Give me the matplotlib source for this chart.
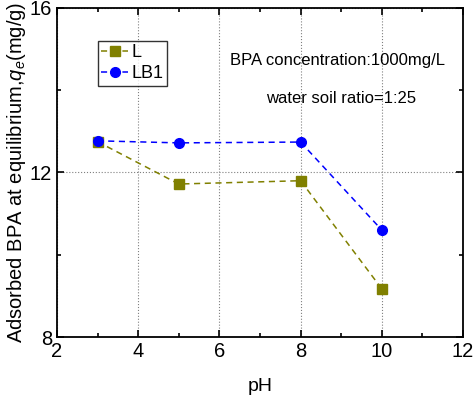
import matplotlib.pyplot as plt
from matplotlib.ticker import MultipleLocator

plt.rcParams['font.family'] = ['Liberation Sans', 'DejaVu Sans']
plt.rcParams['mathtext.fontset'] = 'custom'
plt.rcParams['mathtext.it'] = 'Liberation Sans:italic'
plt.rcParams['mathtext.rm'] = 'Liberation Sans'

ph = [3, 5, 8, 10]
q_L = [12.75, 11.72, 11.8, 9.17]
q_LB1 = [12.77, 12.72, 12.74, 10.6]

fig = plt.figure(figsize=(4.74, 3.97), dpi=100)
ax = fig.add_axes([0.120, 0.151, 0.857, 0.829])

ax.plot(ph, q_L, linestyle='--', marker='s', color='#808000', markersize=6.5, lw=1.1, dashes=(4, 3), label='L')
ax.plot(ph, q_LB1, linestyle='--', marker='o', color='#0000ff', markersize=7, lw=1.1, dashes=(4, 3), label='LB1')

ax.set_xlim(2, 12)
ax.set_ylim(8, 16)
ax.xaxis.set_major_locator(MultipleLocator(2))
ax.xaxis.set_minor_locator(MultipleLocator(1))
ax.yaxis.set_major_locator(MultipleLocator(4))
ax.yaxis.set_minor_locator(MultipleLocator(2))
ax.tick_params(which='both', direction='in', top=True, right=True, labelsize=14.5, width=1.2)
ax.tick_params(which='major', length=5)
ax.tick_params(which='minor', length=3)
ax.grid(True, which='major', linestyle=':', color='gray', lw=0.8)
for s in ax.spines.values():
    s.set_linewidth(1.3)

ax.set_xlabel('pH', fontsize=14, labelpad=12)
ax.set_ylabel('Adsorbed BPA at equilibrium,$q_e$(mg/g)', fontsize=14.5, labelpad=1)

ax.text(0.69, 0.84, 'BPA concentration:1000mg/L', transform=ax.transAxes, ha='center', va='center', fontsize=12)
ax.text(0.70, 0.725, 'water soil ratio=1:25', transform=ax.transAxes, ha='center', va='center', fontsize=12)

leg = ax.legend(loc='upper left', bbox_to_anchor=(0.10, 0.90), fontsize=13, frameon=True, fancybox=False,
                edgecolor='black', handlelength=1.5, borderpad=0.2, labelspacing=0.2, handletextpad=0.2,
                borderaxespad=0)
leg.get_frame().set_linewidth(1.0)

fig.savefig('out.png', dpi=100)
